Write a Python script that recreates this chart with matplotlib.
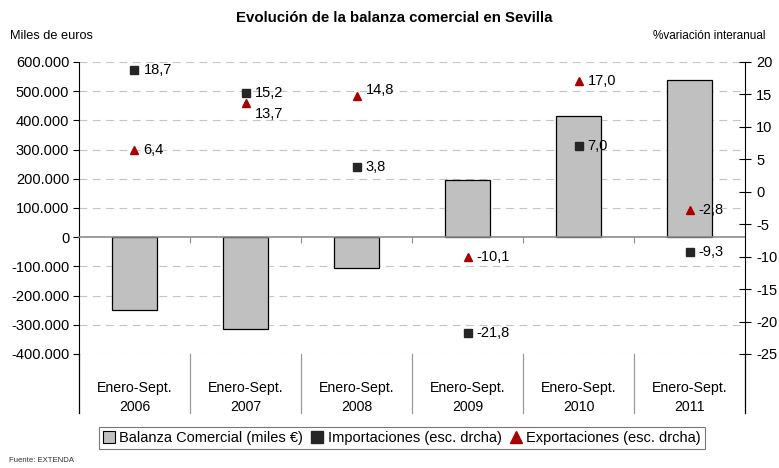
import matplotlib
matplotlib.use('Agg')
import matplotlib.pyplot as plt
import matplotlib.transforms as mtransforms
from matplotlib.lines import Line2D
import numpy as np

plt.rcParams['font.family'] = ['Liberation Sans', 'DejaVu Sans']

periods = ['Enero-Sept.'] * 6
years = ['2006', '2007', '2008', '2009', '2010', '2011']
balanza = [-250000, -315000, -106000, 195000, 415000, 537000]
importaciones = [18.7, 15.2, 3.8, -21.8, 7.0, -9.3]
exportaciones = [6.4, 13.7, 14.8, -10.1, 17.0, -2.8]
left_ticks = [-400000, -300000, -200000, -100000, 0, 100000, 200000, 300000, 400000, 500000, 600000]
right_ticks = [-25, -20, -15, -10, -5, 0, 5, 10, 15, 20]

title = 'Evolución de la balanza comercial en Sevilla'
left_label = 'Miles de euros'
right_label = '%variación interanual'
legend_labels = ['Balanza Comercial (miles €)', 'Importaciones (esc. drcha)', 'Exportaciones (esc. drcha)']
source = 'Fuente: EXTENDA'

FS = 10.5

fig = plt.figure(figsize=(7.79, 4.68), dpi=100)
ax = fig.add_axes([0.1014, 0.2436, 0.855, 0.624])
x = np.arange(len(years))
ax.set_xlim(-0.5, len(years) - 0.5)
ax.set_ylim(left_ticks[0], left_ticks[-1])

for t in left_ticks:
    if t != 0:
        ax.axhline(t, color='#c4c4c4', lw=0.8, ls=(0, (7, 5)), zorder=0)

ax.bar(x, balanza, width=0.4, color='#c0c0c0', edgecolor='black', lw=0.9, zorder=2)

ax.set_yticks(left_ticks)
ax.set_yticklabels([f"{t:,}".replace(',', '.') for t in left_ticks], fontsize=FS)
ax.tick_params(axis='y', direction='out', length=4, width=0.8, pad=3)

ax.spines['top'].set_visible(False)
ax.spines['right'].set_visible(False)
ax.spines['left'].set_color('black')
ax.spines['bottom'].set_position(('data', 0))
ax.spines['bottom'].set_color('#8c8c8c')
ax.spines['bottom'].set_linewidth(1.2)
ax.spines['bottom'].set_zorder(3)
ax.set_xticks([i + 0.5 for i in range(len(years) - 1)])
ax.tick_params(axis='x', direction='out', length=4, color='#8c8c8c', labelbottom=False)

blend = mtransforms.blended_transform_factory(ax.transData, ax.transAxes)
ext = -0.202
for b in [i + 0.5 for i in range(len(years) - 1)]:
    ax.plot([b, b], [0, ext], transform=blend, color='#9a9a9a', lw=0.9, clip_on=False)
for b in [-0.5, len(years) - 0.5]:
    ax.plot([b, b], [0, ext], transform=blend, color='black', lw=0.9, clip_on=False)
for i in range(len(years)):
    ax.text(i, -0.115, periods[i], transform=blend, ha='center', va='center', fontsize=10.2)
    ax.text(i, -0.18, years[i], transform=blend, ha='center', va='center', fontsize=10.2)

ax2 = ax.twinx()
ax2.set_ylim(right_ticks[0], right_ticks[-1])
ax2.set_yticks(right_ticks)
ax2.set_yticklabels([str(t) for t in right_ticks], fontsize=FS)
ax2.tick_params(axis='y', direction='inout', length=8, width=0.8, pad=4)
for s in ['top', 'left', 'bottom']:
    ax2.spines[s].set_visible(False)
ax2.spines['right'].set_color('black')

ax2.plot(x, importaciones, ls='none', marker='s', ms=5.8, color='#262626', zorder=5)
ax2.plot(x, exportaciones, ls='none', marker='^', ms=6.2, color='#a80000', zorder=5)

def fmt(v):
    return f"{v:.1f}".replace('.', ',')

for i, v in enumerate(importaciones):
    ax2.annotate(fmt(v), (i, v), xytext=(6.5, 0), textcoords='offset points',
                 va='center', ha='left', fontsize=FS)
exp_off = [(6.5, 0), (6.5, -8), (6.5, 4), (6.5, 0), (6.5, 0), (6.5, 0)]
for i, v in enumerate(exportaciones):
    ax2.annotate(fmt(v), (i, v), xytext=exp_off[i], textcoords='offset points',
                 va='center', ha='left', fontsize=FS)

fig.text(0.506, 0.961, title, ha='center', va='center', fontsize=10.8, fontweight='bold')
fig.text(0.013, 0.923, left_label, ha='left', va='center', fontsize=9.2)
fig.text(0.983, 0.923, right_label, ha='right', va='center', fontsize=8.5)
fig.text(0.012, 0.017, source, ha='left', va='center', fontsize=5.6, color='#333333')

handles = [
    Line2D([], [], ls='none', marker='s', ms=9, markerfacecolor='#c0c0c0', markeredgecolor='black', markeredgewidth=0.8),
    Line2D([], [], ls='none', marker='s', ms=8, color='#262626'),
    Line2D([], [], ls='none', marker='^', ms=8, color='#a80000'),
]
leg = fig.legend(handles, legend_labels, loc='center', bbox_to_anchor=(0.516, 0.064), ncol=3,
                 fontsize=10.5, frameon=True, fancybox=False, handlelength=0.8,
                 handletextpad=0.3, columnspacing=0.6, borderpad=0.3, borderaxespad=0)
leg.get_frame().set_edgecolor('#555555')
leg.get_frame().set_linewidth(0.8)

fig.savefig('out.png', dpi=100)
